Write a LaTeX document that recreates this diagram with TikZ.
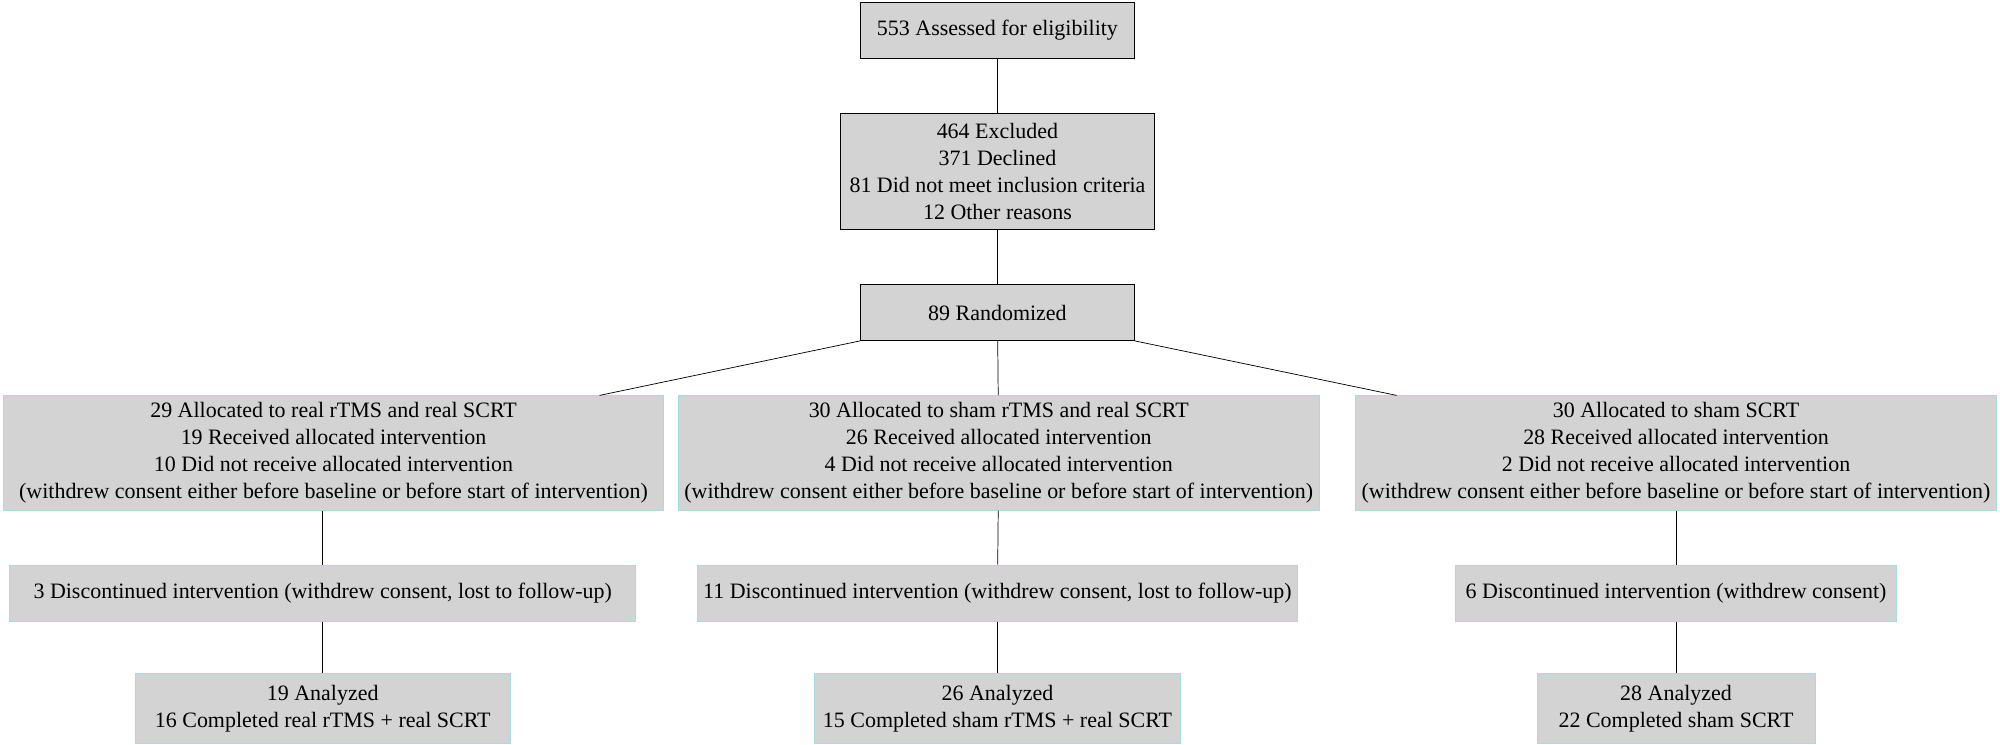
\documentclass[tikz,border=0pt]{standalone}
\usepackage{fontspec}
\setmainfont{Liberation Serif}
\definecolor{boxgray}{HTML}{D3D3D3}
\definecolor{boxcyan}{HTML}{A6DCE0}
\begin{document}
\begin{tikzpicture}[x=0.05cm,y=-0.05cm,
    topbox/.style={draw=black,fill=boxgray,thick,inner sep=0pt,align=center,
      font=\fontsize{24.5}{30}\selectfont},
    armbox/.style={draw=boxcyan,fill=boxgray,thick,inner sep=0pt,align=center,
      font=\fontsize{24.5}{30}\selectfont},
    link/.style={draw=black,thick}]
    \useasboundingbox (0,0) rectangle (1568,584);

            \node[topbox,minimum width=215*0.05cm,minimum height=44*0.05cm] (assess) at (782,24) {553 Assessed for eligibility};
            \node[topbox,minimum width=246*0.05cm,minimum height=91*0.05cm] (excl) at (782,134.5)
              {464 Excluded\\371 Declined\\81 Did not meet inclusion criteria\\12 Other reasons};
            \node[topbox,minimum width=215*0.05cm,minimum height=44*0.05cm] (rand) at (782,245) {89 Randomized};

            % allocation
            \node[armbox,minimum width=517*0.05cm,minimum height=90*0.05cm] (allocA) at (261.5,355)
              {29 Allocated to real rTMS and real SCRT\\19 Received allocated intervention\\10 Did not receive allocated intervention\\(withdrew consent either before baseline or before start of intervention)};
            \node[armbox,minimum width=502*0.05cm,minimum height=90*0.05cm] (allocB) at (783,355)
              {30 Allocated to sham rTMS and real SCRT\\26 Received allocated intervention\\4 Did not receive allocated intervention\\(withdrew consent either before baseline or before start of intervention)};
            \node[armbox,minimum width=503*0.05cm,minimum height=90*0.05cm] (allocC) at (1314,355)
              {30 Allocated to sham SCRT\\28 Received allocated intervention\\2 Did not receive allocated intervention\\(withdrew consent either before baseline or before start of intervention)};

            % follow-up
            \node[armbox,minimum width=491*0.05cm,minimum height=44*0.05cm] (discA) at (253,465) {3 Discontinued intervention (withdrew consent, lost to follow-up)};
            \node[armbox,minimum width=471*0.05cm,minimum height=44*0.05cm] (discB) at (782,465) {11 Discontinued intervention (withdrew consent, lost to follow-up)};
            \node[armbox,minimum width=346*0.05cm,minimum height=44*0.05cm] (discC) at (1314,465) {6 Discontinued intervention (withdrew consent)};

            % analysis
            \node[armbox,minimum width=294*0.05cm,minimum height=55*0.05cm] (anaA) at (253,555.5) {19 Analyzed\\16 Completed real rTMS + real SCRT};
            \node[armbox,minimum width=287*0.05cm,minimum height=55*0.05cm] (anaB) at (782,555.5) {26 Analyzed\\15 Completed sham rTMS + real SCRT};
            \node[armbox,minimum width=218*0.05cm,minimum height=55*0.05cm] (anaC) at (1314,555.5) {28 Analyzed\\22 Completed sham SCRT};

            \coordinate (topA) at (470,310);
            \coordinate (topC) at (1095,310);
            \draw[link] (assess) -- (excl);
            \draw[link] (excl) -- (rand);
            \draw[link] (rand.south west) -- (topA);
            \draw[link] (rand) -- (allocB);
            \draw[link] (rand.south east) -- (topC);
            \draw[link] (allocA.south -| discA) -- (discA);
            \draw[link] (allocB) -- (discB);
            \draw[link] (allocC) -- (discC);
            \draw[link] (discA) -- (anaA);
            \draw[link] (discB) -- (anaB);
            \draw[link] (discC) -- (anaC);
        \end{tikzpicture}
\end{document}
